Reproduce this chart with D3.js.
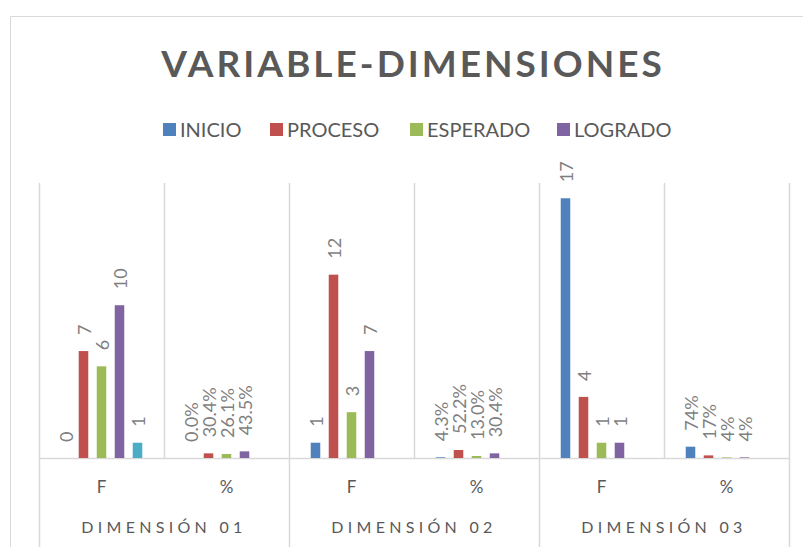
<!DOCTYPE html>
<html>
<head>
<meta charset="utf-8">
<script src="https://cdn.jsdelivr.net/npm/d3@7"></script>
<style>
  body{margin:0;background:#fff;}
  svg{display:block;font-family:Lato,"Open Sans",sans-serif;}
</style>
</head>
<body>
<svg id="chart" width="803" height="547"></svg>
<script>
// data
var dimensions=["DIMENSIÓN 01","DIMENSIÓN 02","DIMENSIÓN 03"];
var subCats=["F","%"];
var seriesNames=["INICIO","PROCESO","ESPERADO","LOGRADO",""];   // 5th series has no legend entry
var seriesColors=["#4f81bd","#c0504d","#9bbb59","#8064a2","#4bacc6"];

// one row per category (dimension x subcat), one value per series
var inicio  =[0,0,    1,0.043, 17,0.74];
var proceso =[7,0.304,12,0.522,4,0.17];
var esperado=[6,0.261,3,0.13,  1,0.04];
var logrado =[10,0.435,7,0.304,1,0.04];
var extra   =[1,null, null,null,null,null];

var inicioLbl  =["0","0.0%","1","4.3%","17","74%"];
var procesoLbl =["7","30.4%","12","52.2%","4","17%"];
var esperadoLbl=["6","26.1%","3","13.0%","1","4%"];
var logradoLbl =["10","43.5%","7","30.4%","1","4%"];
var extraLbl   =["1","","","","",""];

var allValues=[inicio,proceso,esperado,logrado,extra];
var allLabels=[inicioLbl,procesoLbl,esperadoLbl,logradoLbl,extraLbl];

var svg=d3.select("#chart");
var plotLeft=39,plotRight=789,plotTop=183,plotBottom=458;
var gridColor="#d9d9d9";
var textColor="#595959";

// chart border
svg.append("path")
	.attr("d","M10.5,560 L10.5,16.5 L810,16.5")
	.attr("fill","none").attr("stroke",gridColor).attr("stroke-width",1);

// title
svg.append("text")
	.attr("x",413).attr("y",77)
	.attr("text-anchor","middle")
	.attr("font-size",37).attr("font-weight","bold")
	.attr("letter-spacing",3)
	.attr("fill",textColor)
	.text("VARIABLE-DIMENSIONES");

// legend
var legendX=[163,270,410,557];
seriesNames.slice(0,4).forEach(function(name,i){
	var g=svg.append("g").attr("transform","translate("+legendX[i]+",130)");
	g.append("rect").attr("x",0).attr("y",-7).attr("width",13).attr("height",13).attr("fill",seriesColors[i]);
	g.append("text").attr("x",17).attr("y",7)
		.attr("font-size",20).attr("fill",textColor).text(name);
});

// scales
var categories=[];
dimensions.forEach(function(d){subCats.forEach(function(s){categories.push(d+"|"+s);});});

var x0=d3.scaleBand().domain(categories).range([plotLeft,plotRight]);
var x1=d3.scaleBand().domain(d3.range(seriesNames.length)).range([-45,45]).paddingInner(0.47).paddingOuter(0.235);
var y=d3.scaleLinear().domain([0,18]).range([plotBottom,plotTop]);

// vertical gridlines at category boundaries
var bounds=d3.range(categories.length+1).map(function(i){return plotLeft+i*x0.step();});
svg.append("g").selectAll("line").data(bounds).enter().append("line")
	.attr("x1",function(d){return Math.round(d)+0.5;})
	.attr("x2",function(d){return Math.round(d)+0.5;})
	.attr("y1",plotTop)
	.attr("y2",function(d,i){return (i%2===0)?547:plotBottom;})
	.attr("stroke",gridColor).attr("stroke-width",1.5);

// baseline
svg.append("line")
	.attr("x1",plotLeft).attr("x2",plotRight)
	.attr("y1",plotBottom+0.5).attr("y2",plotBottom+0.5)
	.attr("stroke",gridColor).attr("stroke-width",1.5);

// bars
var bars=svg.append("g");
allValues.forEach(function(vals,si){
	var data=categories.map(function(c,ci){return {cat:c,v:vals[ci],lbl:allLabels[si][ci]};});
	var g=bars.append("g");
	g.selectAll("rect").data(data.filter(function(d){return d.v!==null&&d.v>0;})).enter().append("rect")
		.attr("x",function(d){return x0(d.cat)+x0.bandwidth()/2+x1(si);})
		.attr("width",x1.bandwidth())
		.attr("y",function(d){return y(d.v);})
		.attr("height",function(d){return plotBottom-y(d.v);})
		.attr("fill",seriesColors[si]);
	g.selectAll("text").data(data.filter(function(d){return d.lbl!=="";})).enter().append("text")
		.attr("transform",function(d){
			var cx=x0(d.cat)+x0.bandwidth()/2+x1(si)+x1.bandwidth()/2;
			return "translate("+cx+","+(y(d.v||0)-16)+") rotate(-90)";
		})
		.attr("dominant-baseline","central")
		.attr("font-size",18).attr("fill","#7f7f7f")
		.text(function(d){return d.lbl;});
});

// category labels
svg.append("g").selectAll("text").data(categories).enter().append("text")
	.attr("x",function(d){return x0(d)+x0.bandwidth()/2;})
	.attr("y",493)
	.attr("text-anchor","middle")
	.attr("font-size",17).attr("fill",textColor)
	.text(function(d){return d.split("|")[1];});

// dimension labels
svg.append("g").selectAll("text").data(dimensions).enter().append("text")
	.attr("x",function(d,i){return plotLeft+(i*2+1)*x0.step();})
	.attr("y",533)
	.attr("text-anchor","middle")
	.attr("font-size",16).attr("letter-spacing",4.3).attr("fill",textColor)
	.text(function(d){return d;});
</script>
</body>
</html>
